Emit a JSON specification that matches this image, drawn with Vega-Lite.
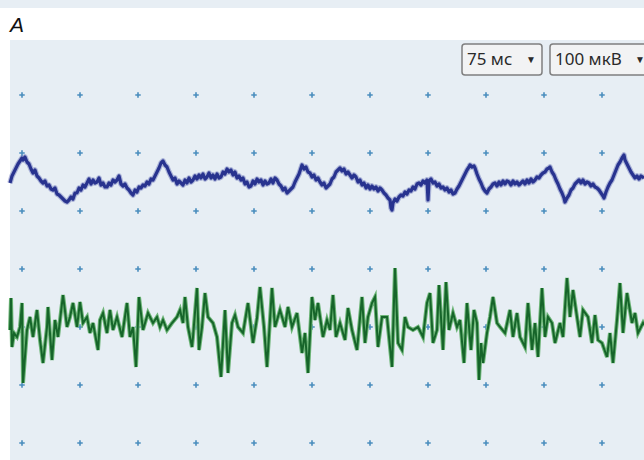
{
"$schema":"https://vega.github.io/schema/vega-lite/v6.json",
"autosize":"none",
"width":634,"height":420,
"padding":{"left":10,"top":40,"right":0,"bottom":0},
"background":"#ffffff",
"config":{"view":{"fill":"#e7eef4","stroke":null}},
"datasets":{
"band":[{"x":0,"x2":644,"y":0,"y2":8}],
"heading":[{"x":10,"y":32,"t":"A"}],
"grid":[{"y":95,"x":[22,80,138,196,254,312,370,428,486,544,602]},{"y":153,"x":[22,80,138,196,254,312,370,428,486,544,602]},{"y":211,"x":[22,80,138,196,254,312,370,428,486,544,602]},{"y":269,"x":[22,80,138,196,254,312,370,428,486,544,602]},{"y":327,"x":[22,80,138,196,254,312,370,428,486,544,602]},{"y":385,"x":[22,80,138,196,254,312,370,428,486,544,602]},{"y":443,"x":[22,80,138,196,254,312,370,428,486,544,602]}],
"blue":[{"x":10,"y":183},{"x":12,"y":176},{"x":14,"y":172},{"x":16,"y":168},{"x":18,"y":164},{"x":20,"y":161},{"x":22,"y":158},{"x":23,"y":160},{"x":25,"y":157},{"x":27,"y":162},{"x":29,"y":164},{"x":31,"y":169},{"x":33,"y":173},{"x":35,"y":170},{"x":37,"y":176},{"x":39,"y":178},{"x":41,"y":181},{"x":43,"y":183},{"x":45,"y":181},{"x":47,"y":186},{"x":49,"y":185},{"x":51,"y":189},{"x":53,"y":190},{"x":55,"y":188},{"x":57,"y":194},{"x":59,"y":195},{"x":61,"y":197},{"x":63,"y":199},{"x":65,"y":201},{"x":67,"y":202},{"x":69,"y":200},{"x":71,"y":197},{"x":73,"y":199},{"x":75,"y":193},{"x":77,"y":193},{"x":79,"y":188},{"x":81,"y":190},{"x":83,"y":185},{"x":85,"y":187},{"x":87,"y":183},{"x":89,"y":179},{"x":91,"y":184},{"x":93,"y":180},{"x":95,"y":183},{"x":97,"y":182},{"x":99,"y":178},{"x":101,"y":185},{"x":103,"y":183},{"x":105,"y":187},{"x":107,"y":187},{"x":109,"y":183},{"x":111,"y":185},{"x":113,"y":180},{"x":115,"y":182},{"x":117,"y":180},{"x":119,"y":176},{"x":121,"y":184},{"x":123,"y":186},{"x":125,"y":184},{"x":127,"y":188},{"x":129,"y":190},{"x":131,"y":193},{"x":133,"y":195},{"x":135,"y":190},{"x":137,"y":192},{"x":139,"y":187},{"x":141,"y":188},{"x":143,"y":185},{"x":145,"y":186},{"x":147,"y":182},{"x":149,"y":184},{"x":151,"y":179},{"x":153,"y":180},{"x":155,"y":176},{"x":157,"y":172},{"x":159,"y":168},{"x":161,"y":163},{"x":163,"y":161},{"x":165,"y":165},{"x":167,"y":167},{"x":169,"y":172},{"x":171,"y":176},{"x":173,"y":180},{"x":175,"y":178},{"x":177,"y":184},{"x":179,"y":181},{"x":181,"y":183},{"x":183,"y":185},{"x":185,"y":180},{"x":187,"y":183},{"x":189,"y":178},{"x":191,"y":182},{"x":193,"y":180},{"x":195,"y":176},{"x":197,"y":179},{"x":199,"y":175},{"x":201,"y":178},{"x":203,"y":174},{"x":205,"y":179},{"x":207,"y":177},{"x":209,"y":173},{"x":211,"y":178},{"x":213,"y":175},{"x":215,"y":179},{"x":217,"y":174},{"x":219,"y":178},{"x":221,"y":177},{"x":223,"y":172},{"x":225,"y":174},{"x":227,"y":169},{"x":229,"y":172},{"x":231,"y":170},{"x":233,"y":175},{"x":235,"y":172},{"x":237,"y":178},{"x":239,"y":176},{"x":241,"y":180},{"x":243,"y":178},{"x":245,"y":184},{"x":247,"y":182},{"x":249,"y":187},{"x":251,"y":186},{"x":253,"y":181},{"x":255,"y":184},{"x":257,"y":179},{"x":259,"y":182},{"x":261,"y":180},{"x":263,"y":185},{"x":265,"y":181},{"x":267,"y":184},{"x":269,"y":183},{"x":271,"y":179},{"x":273,"y":183},{"x":275,"y":178},{"x":277,"y":180},{"x":279,"y":184},{"x":281,"y":186},{"x":283,"y":190},{"x":285,"y":188},{"x":287,"y":193},{"x":289,"y":191},{"x":291,"y":189},{"x":293,"y":187},{"x":295,"y":182},{"x":297,"y":178},{"x":299,"y":174},{"x":301,"y":168},{"x":302,"y":165},{"x":304,"y":169},{"x":306,"y":167},{"x":308,"y":172},{"x":310,"y":173},{"x":312,"y":177},{"x":314,"y":175},{"x":316,"y":180},{"x":318,"y":178},{"x":320,"y":182},{"x":322,"y":185},{"x":324,"y":183},{"x":326,"y":188},{"x":328,"y":186},{"x":330,"y":184},{"x":332,"y":179},{"x":334,"y":177},{"x":336,"y":172},{"x":338,"y":170},{"x":340,"y":168},{"x":342,"y":171},{"x":344,"y":169},{"x":346,"y":174},{"x":348,"y":172},{"x":350,"y":175},{"x":352,"y":178},{"x":354,"y":175},{"x":356,"y":177},{"x":358,"y":182},{"x":360,"y":180},{"x":362,"y":185},{"x":364,"y":183},{"x":366,"y":188},{"x":368,"y":185},{"x":370,"y":189},{"x":372,"y":186},{"x":374,"y":189},{"x":376,"y":187},{"x":378,"y":191},{"x":380,"y":188},{"x":382,"y":190},{"x":384,"y":193},{"x":386,"y":195},{"x":388,"y":198},{"x":390,"y":200},{"x":391,"y":208},{"x":392,"y":210},{"x":393,"y":203},{"x":395,"y":199},{"x":397,"y":201},{"x":399,"y":197},{"x":401,"y":195},{"x":403,"y":196},{"x":405,"y":192},{"x":407,"y":194},{"x":409,"y":190},{"x":411,"y":191},{"x":413,"y":187},{"x":415,"y":189},{"x":417,"y":184},{"x":419,"y":183},{"x":421,"y":185},{"x":423,"y":181},{"x":425,"y":183},{"x":427,"y":180},{"x":428,"y":200},{"x":429,"y":181},{"x":431,"y":179},{"x":433,"y":183},{"x":435,"y":182},{"x":437,"y":186},{"x":439,"y":184},{"x":441,"y":188},{"x":443,"y":187},{"x":445,"y":190},{"x":447,"y":188},{"x":449,"y":192},{"x":451,"y":190},{"x":453,"y":194},{"x":455,"y":193},{"x":457,"y":189},{"x":459,"y":186},{"x":461,"y":182},{"x":463,"y":178},{"x":465,"y":174},{"x":467,"y":170},{"x":469,"y":167},{"x":470,"y":165},{"x":472,"y":167},{"x":474,"y":166},{"x":475,"y":168},{"x":477,"y":174},{"x":479,"y":179},{"x":481,"y":183},{"x":483,"y":188},{"x":485,"y":191},{"x":487,"y":193},{"x":489,"y":189},{"x":491,"y":187},{"x":493,"y":184},{"x":495,"y":183},{"x":497,"y":186},{"x":499,"y":182},{"x":501,"y":185},{"x":503,"y":181},{"x":505,"y":184},{"x":507,"y":181},{"x":509,"y":182},{"x":511,"y":185},{"x":513,"y":181},{"x":515,"y":184},{"x":517,"y":182},{"x":519,"y":185},{"x":521,"y":183},{"x":523,"y":181},{"x":525,"y":184},{"x":527,"y":180},{"x":529,"y":183},{"x":531,"y":179},{"x":533,"y":182},{"x":535,"y":180},{"x":537,"y":177},{"x":539,"y":178},{"x":541,"y":175},{"x":543,"y":173},{"x":545,"y":172},{"x":547,"y":169},{"x":549,"y":168},{"x":550,"y":167},{"x":552,"y":172},{"x":554,"y":175},{"x":556,"y":180},{"x":558,"y":184},{"x":560,"y":189},{"x":562,"y":193},{"x":564,"y":198},{"x":565,"y":202},{"x":567,"y":198},{"x":569,"y":195},{"x":571,"y":190},{"x":573,"y":188},{"x":575,"y":184},{"x":577,"y":182},{"x":579,"y":180},{"x":581,"y":183},{"x":583,"y":180},{"x":585,"y":184},{"x":587,"y":182},{"x":589,"y":183},{"x":591,"y":186},{"x":593,"y":184},{"x":595,"y":187},{"x":597,"y":188},{"x":599,"y":190},{"x":601,"y":193},{"x":603,"y":196},{"x":604,"y":198},{"x":606,"y":192},{"x":608,"y":187},{"x":610,"y":183},{"x":612,"y":180},{"x":614,"y":175},{"x":616,"y":170},{"x":618,"y":165},{"x":620,"y":162},{"x":622,"y":158},{"x":624,"y":155},{"x":625,"y":160},{"x":627,"y":164},{"x":629,"y":168},{"x":631,"y":172},{"x":633,"y":175},{"x":635,"y":178},{"x":637,"y":176},{"x":639,"y":179},{"x":641,"y":176},{"x":644,"y":178}],
"green":[{"x":10,"y":330},{"x":11,"y":298},{"x":12,"y":347},{"x":14,"y":333},{"x":17,"y":337},{"x":20,"y":327},{"x":22,"y":303},{"x":23,"y":383},{"x":27,"y":330},{"x":30,"y":317},{"x":33,"y":337},{"x":37,"y":310},{"x":40,"y":340},{"x":43,"y":363},{"x":47,"y":327},{"x":48,"y":307},{"x":52,"y":360},{"x":55,"y":320},{"x":58,"y":337},{"x":63,"y":295},{"x":67,"y":327},{"x":70,"y":317},{"x":73,"y":303},{"x":77,"y":327},{"x":80,"y":302},{"x":83,"y":323},{"x":87,"y":317},{"x":90,"y":333},{"x":93,"y":323},{"x":98,"y":350},{"x":100,"y":320},{"x":103,"y":313},{"x":107,"y":333},{"x":110,"y":310},{"x":113,"y":330},{"x":117,"y":317},{"x":122,"y":337},{"x":127,"y":303},{"x":130,"y":337},{"x":133,"y":327},{"x":136,"y":367},{"x":139,"y":297},{"x":143,"y":330},{"x":148,"y":313},{"x":153,"y":323},{"x":157,"y":317},{"x":160,"y":327},{"x":163,"y":320},{"x":167,"y":330},{"x":172,"y":323},{"x":177,"y":317},{"x":180,"y":310},{"x":183,"y":323},{"x":185,"y":297},{"x":188,"y":327},{"x":192,"y":347},{"x":193,"y":337},{"x":197,"y":288},{"x":199,"y":350},{"x":202,"y":327},{"x":205,"y":293},{"x":208,"y":317},{"x":213,"y":323},{"x":217,"y":337},{"x":221,"y":377},{"x":225,"y":310},{"x":228,"y":373},{"x":232,"y":323},{"x":235,"y":315},{"x":238,"y":327},{"x":243,"y":333},{"x":248,"y":303},{"x":253,"y":343},{"x":257,"y":318},{"x":260,"y":287},{"x":264,"y":327},{"x":267,"y":367},{"x":272,"y":288},{"x":275,"y":327},{"x":280,"y":310},{"x":285,"y":327},{"x":288,"y":307},{"x":292,"y":327},{"x":297,"y":313},{"x":302,"y":353},{"x":305,"y":333},{"x":308,"y":373},{"x":312,"y":297},{"x":315,"y":320},{"x":318,"y":303},{"x":323,"y":337},{"x":327,"y":320},{"x":330,"y":330},{"x":333,"y":295},{"x":336,"y":337},{"x":340,"y":323},{"x":345,"y":340},{"x":348,"y":308},{"x":352,"y":330},{"x":357,"y":350},{"x":362,"y":297},{"x":365,"y":343},{"x":368,"y":317},{"x":372,"y":303},{"x":375,"y":297},{"x":378,"y":347},{"x":382,"y":317},{"x":387,"y":317},{"x":392,"y":367},{"x":395,"y":268},{"x":398,"y":343},{"x":402,"y":350},{"x":405,"y":317},{"x":408,"y":327},{"x":413,"y":330},{"x":418,"y":327},{"x":423,"y":337},{"x":427,"y":303},{"x":430,"y":293},{"x":433,"y":343},{"x":437,"y":330},{"x":439,"y":285},{"x":443,"y":350},{"x":446,"y":282},{"x":449,"y":330},{"x":453,"y":313},{"x":457,"y":327},{"x":460,"y":320},{"x":464,"y":363},{"x":467,"y":303},{"x":471,"y":350},{"x":474,"y":310},{"x":477,"y":323},{"x":479,"y":380},{"x":481,"y":343},{"x":483,"y":363},{"x":487,"y":333},{"x":490,"y":317},{"x":493,"y":297},{"x":497,"y":323},{"x":500,"y":327},{"x":505,"y":333},{"x":510,"y":310},{"x":513,"y":337},{"x":517,"y":313},{"x":520,"y":337},{"x":525,"y":347},{"x":528,"y":303},{"x":532,"y":350},{"x":535,"y":323},{"x":538,"y":357},{"x":542,"y":288},{"x":545,"y":337},{"x":548,"y":317},{"x":552,"y":323},{"x":555,"y":343},{"x":560,"y":323},{"x":563,"y":337},{"x":567,"y":278},{"x":570,"y":317},{"x":573,"y":290},{"x":577,"y":317},{"x":580,"y":337},{"x":583,"y":310},{"x":588,"y":317},{"x":592,"y":343},{"x":595,"y":315},{"x":598,"y":340},{"x":602,"y":343},{"x":607,"y":357},{"x":610,"y":333},{"x":613,"y":363},{"x":617,"y":320},{"x":620,"y":283},{"x":623,"y":333},{"x":627,"y":293},{"x":632,"y":323},{"x":635,"y":313},{"x":638,"y":333},{"x":643,"y":323},{"x":644,"y":325}],
"boxes":[{"x":462,"x2":542,"y":44,"y2":75},{"x":550,"x2":660,"y":44,"y2":75}],
"labels":[{"x":467,"y":60,"t":"75 мс","s":17},{"x":526,"y":60,"t":"▼","s":10},{"x":555,"y":60,"t":"100 мкВ","s":17},{"x":635,"y":60,"t":"▼","s":10}]
},
"encoding":{
"x":{"field":"x","type":"quantitative","scale":{"domain":[10,644],"nice":false,"zero":false},"axis":null},
"y":{"field":"y","type":"quantitative","scale":{"domain":[40,460],"nice":false,"zero":false,"reverse":true},"axis":null}
},
"layer":[
{"data":{"name":"band"},"mark":{"type":"rect","fill":"#e7eef4","clip":false},"encoding":{"x2":{"field":"x2"},"y2":{"field":"y2"}}},
{"data":{"name":"heading"},"mark":{"type":"text","align":"left","baseline":"alphabetic","font":"Liberation Sans Narrow, Liberation Sans","fontStyle":"italic","size":21,"fontSize":21,"color":"#111111","clip":false},"encoding":{"text":{"field":"t"}}},
{"data":{"name":"grid"},"transform":[{"flatten":["x"]}],"mark":{"type":"point","shape":"M-1,0H1M0,-1V1","size":30,"filled":false,"stroke":"#4a8dbd","strokeWidth":1.6,"opacity":1}},
{"data":{"name":"blue"},"mark":{"type":"line","stroke":"#3a44a3","strokeWidth":5.5,"opacity":0.35,"strokeJoin":"round"}},
{"data":{"name":"blue"},"mark":{"type":"line","stroke":"#28338f","strokeWidth":3.2,"strokeJoin":"round"}},
{"data":{"name":"green"},"mark":{"type":"line","stroke":"#6db577","strokeWidth":4,"strokeJoin":"miter"}},
{"data":{"name":"green"},"mark":{"type":"line","stroke":"#16652a","strokeWidth":2,"strokeJoin":"miter"}},
{"data":{"name":"boxes"},"mark":{"type":"rect","fill":"#f2f3f4","stroke":"#7f7f7f","strokeWidth":1.5,"cornerRadius":3,"clip":false},"encoding":{"x2":{"field":"x2"},"y2":{"field":"y2"}}},
{"data":{"name":"labels"},"mark":{"type":"text","align":"left","baseline":"middle","font":"Noto Sans","color":"#2a2a2a"},"encoding":{"text":{"field":"t"},"size":{"field":"s","type":"quantitative","scale":null}}}
]
}
